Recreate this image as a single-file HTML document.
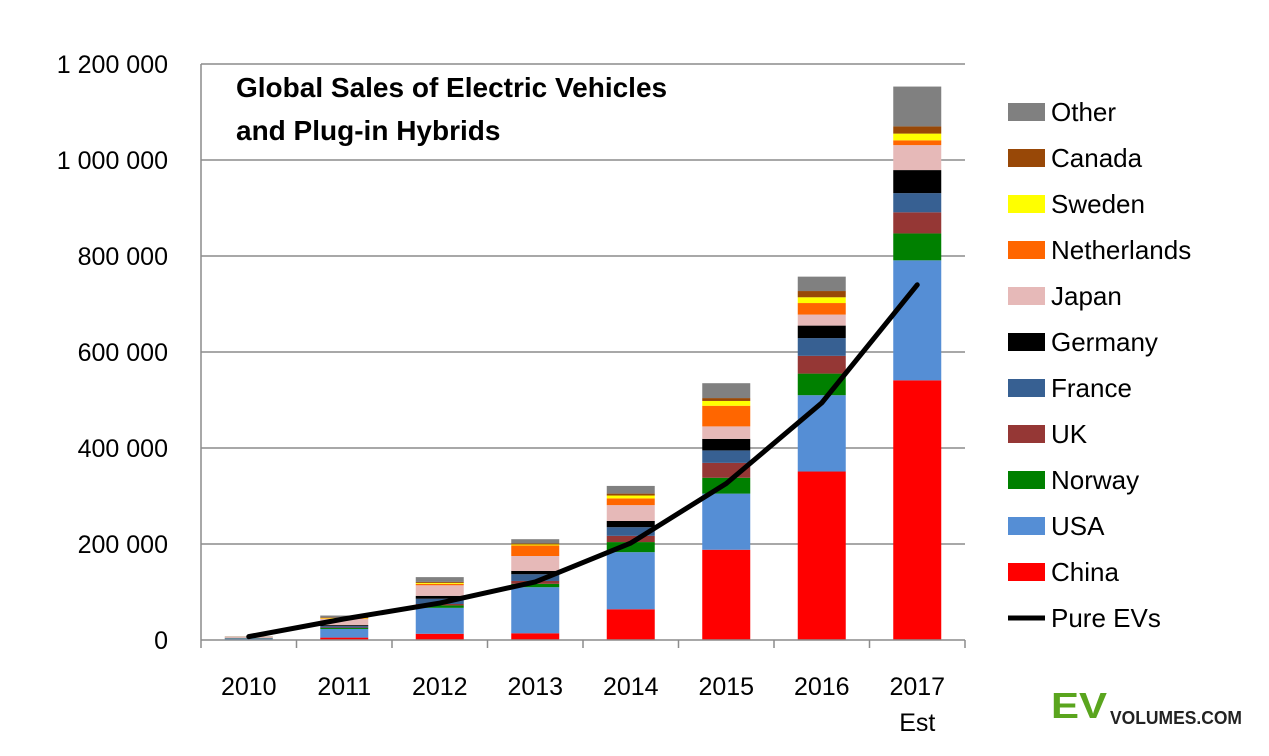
<!DOCTYPE html>
<html><head><meta charset="utf-8"><style>
body{margin:0;background:#fff;font-family:"Liberation Sans",sans-serif}
svg{display:block}
</style></head><body>
<svg id="chart" width="1269" height="756" xmlns="http://www.w3.org/2000/svg" font-family="Liberation Sans, sans-serif">
<g id="grid"></g>
<g id="bars"></g>
<g id="axes"></g>
<g id="line"></g>
<text x="236" y="97" font-size="28" font-weight="bold">Global Sales of Electric Vehicles</text>
<text x="236" y="140" font-size="28" font-weight="bold">and Plug-in Hybrids</text>
<g id="legend"></g>
<text x="1051" y="718" font-size="36" font-weight="bold" fill="#5aa51e" textLength="56" lengthAdjust="spacingAndGlyphs">EV</text>
<text x="1110" y="724" font-size="18" font-weight="bold" fill="#222" textLength="132" lengthAdjust="spacingAndGlyphs">VOLUMES.COM</text>
</svg>
<script>
const categories=["2010","2011","2012","2013","2014","2015","2016","2017"];
const seriesNames=["China","USA","Norway","UK","France","Germany","Japan","Netherlands","Sweden","Canada","Other"];
const seriesColors=["#ff0000","#558ed5","#008000","#953735","#376092","#000000","#e6b9b8","#ff6600","#ffff00","#984807","#808080"];
const china=[1,5,13,14,64,188,351,541];
const usa=[2,18,54,96,119,117,159,250];
const norway=[0.5,2,5,7,21,33,45,56];
const uk=[0.3,1,3,6,13,31,37,44];
const france=[0.2,3,11,14,18,26,37,40];
const germany=[0.5,2,6,7,13,24,26,48];
const japan=[2,13,22,31,33,26,23,52];
const netherlands=[0.2,1,3,22,14,43,24,10];
const sweden=[0.1,1,2,2,6,10,12,14];
const canada=[0.2,1,2,2,4,6,13,15];
const other=[0.5,4,10,9,16,31,30,83];
const pureEV=[7,44,77,121,202,326,494,740];
const yTicks=[0,200000,400000,600000,800000,1000000,1200000];
const yTickLabels=["0","200 000","400 000","600 000","800 000","1 000 000","1 200 000"];
const series=[china,usa,norway,uk,france,germany,japan,netherlands,sweden,canada,other];
const NS="http://www.w3.org/2000/svg";
const x0=201,x1=965,y0=640,yTop=64,yMax=1200000;
const bw=(x1-x0)/categories.length;
const yS=v=>y0-v/yMax*(y0-yTop);
const xC=i=>x0+bw*(i+0.5);
function mk(t,a,p){const e=document.createElementNS(NS,t);for(const k in a)e.setAttribute(k,a[k]);p.appendChild(e);return e;}
const grid=document.getElementById('grid'),axes=document.getElementById('axes');
yTicks.forEach((v,i)=>{
 if(v>0){const l=mk('line',{x1:x0,x2:x1,y1:yS(v),y2:yS(v),stroke:'#8c8c8c','stroke-width':1.5},grid);
 
 }
 const t=mk('text',{x:168,y:yS(v)+9,'font-size':25,'text-anchor':'end',fill:'#000'},axes);
 t.textContent=yTickLabels[i];
 
 
});
const bars=document.getElementById('bars');
categories.forEach((c,i)=>{
 let acc=0;
 series.forEach((s,j)=>{
  const v=s[i]*1000;
  const r=mk('rect',{x:xC(i)-24,width:48,y:yS(acc+v),height:yS(acc)-yS(acc+v),fill:seriesColors[j]},bars);
  
  
  acc+=v;
 });
 const t=mk('text',{x:xC(i),y:695,'font-size':25,'text-anchor':'middle'},axes);
 t.textContent=c;
 
 
});
const est=mk('text',{x:xC(7),y:731,'font-size':25,'text-anchor':'middle'},axes);
est.textContent="Est";


const ax=mk('line',{x1:x0,x2:x1,y1:y0,y2:y0,stroke:'#8c8c8c','stroke-width':1.5},axes);


const ay=mk('line',{x1:x0,x2:x0,y1:yTop,y2:y0,stroke:'#8c8c8c','stroke-width':1.5},axes);


for(let i=0;i<=categories.length;i++){const tk=mk('line',{x1:x0+bw*i,x2:x0+bw*i,y1:y0,y2:y0+8,stroke:'#8c8c8c','stroke-width':1.5},axes);
 
 }
const pl=mk('polyline',{points:pureEV.map((v,i)=>xC(i)+','+yS(v*1000)).join(' '),fill:'none',stroke:'#000','stroke-width':5,'stroke-linecap':'round','stroke-linejoin':'round'},document.getElementById('line'));


const leg=document.getElementById('legend');
const order=seriesNames.map((n,j)=>j).reverse();
order.forEach((j,k)=>{
 const y=112+k*46;
 const r=mk('rect',{x:1008,y:y-9,width:37,height:18,fill:seriesColors[j]},leg);
 
 
 const t=mk('text',{x:1051,y:y+9,'font-size':26},leg);
 t.textContent=seriesNames[j];
 
 
});
const ly=112+11*46;
const ll=mk('line',{x1:1008,x2:1045,y1:ly,y2:ly,stroke:'#000','stroke-width':5},leg);


const lt=mk('text',{x:1051,y:ly+9,'font-size':26},leg);
lt.textContent="Pure EVs";


</script>
</body></html>
